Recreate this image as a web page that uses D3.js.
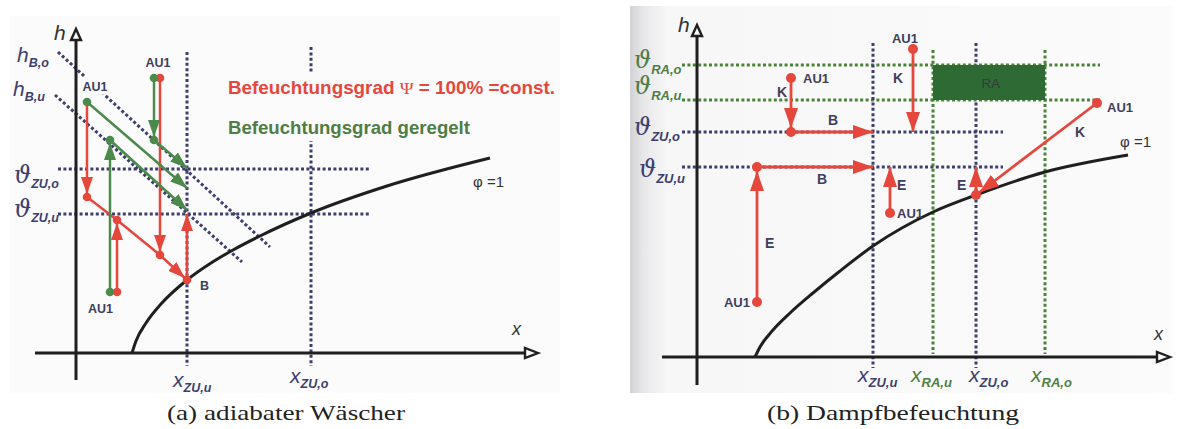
<!DOCTYPE html>
<html>
<head>
<meta charset="utf-8">
<script src="https://cdn.jsdelivr.net/npm/d3@7"></script>
<style>
  html, body { margin: 0; background: #ffffff; }
  svg { display: block; }
</style>
</head>
<body>
<svg id="fig" width="1184" height="429"></svg>
<script>
// ===================== data (diagram units: x = water content, h = enthalpy) =====================

// (a) adiabatic washer
const satCurveA = [[5.6, 0], [6.0, 1.2], [7.0, 3.0], [8.5, 4.9], [11.1, 7.3], [13.5, 9.0], [15.7, 10.3],
                   [18.4, 11.7], [23.5, 14.0], [31.1, 16.7], [41.4, 19.5]];
const tempLevelsA = [{ sub: "ZU,o", h: 18.4 }, { sub: "ZU,u", h: 13.9 }];
const moistLevelsA = [{ sub: "ZU,u", x: 11.1 }, { sub: "ZU,o", x: 23.5 }];
const isenthalpsA = [
  { sub: "B,o", from: [-1.8, 30.1], to: [19.4, 10.6] },
  { sub: "B,u", from: [-2.1, 25.8], to: [16.6, 9.1] }
];
// psi = 100 % = const. (red) : state changes
const redPathsA = [
  { pts: [[1.1, 25.1], [1.1, 15.6]], end: "dot" },
  { pts: [[4.1, 6.1], [4.1, 13.3]], end: "dot" },
  { pts: [[8.4, 27.5], [8.4, 9.8]], end: "dot" },
  { pts: [[1.1, 15.6], [4.1, 13.3], [8.4, 9.8], [11.1, 7.3]], end: "dot" },
  { pts: [[11.1, 7.3], [11.1, 13.9]], end: "tip" }
];
const redDotsA = [[8.4, 27.5], [4.1, 6.1], [1.1, 15.6], [4.1, 13.3], [8.4, 9.8], [11.1, 7.3]];
// controlled humidification (green)
const greenPathsA = [
  { pts: [[1.1, 25.1], [11.1, 16.5]], end: "tip" },
  { pts: [[3.4, 6.1], [3.4, 21.3]], end: "dot" },
  { pts: [[3.4, 21.3], [11.1, 14.3]], end: "tip" },
  { pts: [[7.8, 27.5], [7.8, 21.3]], end: "dot" },
  { pts: [[7.8, 21.3], [11.1, 18.5]], end: "tip" }
];
const greenDotsA = [[1.1, 25.1], [7.8, 27.5], [3.4, 6.1], [3.4, 21.3], [7.8, 21.3]];
const outdoorStatesA = [[1.1, 25.1], [8.1, 27.5], [3.75, 6.1]];
const pointB_A = [11.1, 7.3];
const legendA = ["Befeuchtungsgrad  ", "Ψ", " = 100% =const.", "Befeuchtungsgrad geregelt"];

// (b) steam humidification
const satCurveB = [[5.8, 0], [6.3, 1.0], [7.6, 2.7], [9.3, 4.4], [11.6, 6.4], [14.3, 8.6], [17.6, 11.1],
                   [23.6, 14.5], [27.9, 16.2], [34.8, 18.5], [43.1, 20.2]];
const tempLevelsB = [
  { sub: "RA,o", h: 29.2, kind: "RA" },
  { sub: "RA,u", h: 25.7, kind: "RA" },
  { sub: "ZU,o", h: 22.5, kind: "ZU" },
  { sub: "ZU,u", h: 19.0, kind: "ZU" }
];
const moistLevelsB = [
  { sub: "ZU,u", x: 17.6, kind: "ZU" },
  { sub: "RA,u", x: 23.6, kind: "RA" },
  { sub: "ZU,o", x: 27.9, kind: "ZU" },
  { sub: "RA,o", x: 34.8, kind: "RA" }
];
const roomBox = { x0: 23.6, x1: 34.8, h0: 25.7, h1: 29.2, label: "RA" };
const redPathsB = [
  { pts: [[9.4, 27.9], [9.4, 22.5]], end: "dot", tag: "K" },
  { pts: [[9.4, 22.5], [17.6, 22.5]], end: "tip", tag: "B" },
  { pts: [[6.0, 5.5], [6.0, 19.0]], end: "dot", tag: "E" },
  { pts: [[6.0, 19.0], [17.6, 19.0]], end: "tip", tag: "B" },
  { pts: [[21.6, 30.8], [21.6, 22.5]], end: "tip", tag: "K" },
  { pts: [[19.3, 14.4], [19.3, 19.0]], end: "tip", tag: "E" },
  { pts: [[40.0, 25.4], [27.9, 16.2]], end: "dot", tag: "K" },
  { pts: [[27.9, 16.2], [27.9, 19.0]], end: "tip", tag: "E" }
];
const redDotsB = [[9.4, 27.9], [9.4, 22.5], [6.0, 5.5], [6.0, 19.0], [21.6, 30.8], [19.3, 14.4], [40.0, 25.4], [27.9, 16.2]];

const captions = ["(a) adiabater Wäscher", "(b) Dampfbefeuchtung"];

// ===================== styling =====================
const RED = "#e5473d", GREEN = "#4c8a4c", GREEN_TXT = "#4f7d45", NAVY = "#3d3f6e",
      DOTGREEN = "#4a8438", INK = "#1f1f1f", LBL = "#3e3e5e", BOX = "#2e6a34";
const SANS = "'Liberation Sans', Arial, sans-serif";
const SERIF = "'DejaVu Serif', serif";

const svg = d3.select("#fig");
const defs = svg.append("defs");

// filled arrowheads drawn in user space; "back" pulls the tip off a state dot
function marker(id, color, len, wid, back) {
  defs.append("marker").attr("id", id)
    .attr("markerUnits", "userSpaceOnUse")
    .attr("viewBox", `0 0 ${len} ${wid}`)
    .attr("markerWidth", len).attr("markerHeight", wid)
    .attr("refX", len + back).attr("refY", wid / 2)
    .attr("orient", "auto")
    .append("path").attr("d", `M0,0L${len},${wid / 2}L0,${wid}Z`).attr("fill", color);
}
marker("rA-tip", RED, 17, 12, 0);
marker("rA-dot", RED, 17, 12, 3);
marker("gA-tip", GREEN, 17, 12, 0);
marker("gA-dot", GREEN, 17, 12, 3);
marker("rB-tip", RED, 20, 14, 0);
marker("rB-dot", RED, 20, 14, 4);

const bgGrad = defs.append("linearGradient").attr("id", "bgB").attr("x1", 0).attr("x2", 1).attr("y1", 0).attr("y2", 0);
bgGrad.append("stop").attr("offset", 0).attr("stop-color", "#d2d2d4");
bgGrad.append("stop").attr("offset", 0.025).attr("stop-color", "#e8e8ea");
bgGrad.append("stop").attr("offset", 0.07).attr("stop-color", "#f7f7f8");
bgGrad.append("stop").attr("offset", 1).attr("stop-color", "#fbfbfb");

const line = (sx, sy) => d3.line().x(d => sx(d[0])).y(d => sy(d[1]));

function dottedH(g, sx, sy, h, x0, x1, color) {
  g.append("line").attr("x1", sx(x0)).attr("x2", sx(x1)).attr("y1", sy(h)).attr("y2", sy(h))
    .attr("stroke", color).attr("stroke-width", 3).attr("stroke-dasharray", "3,2.4");
}
function dottedV(g, sx, sy, x, h0, h1, color) {
  g.append("line").attr("x1", sx(x)).attr("x2", sx(x)).attr("y1", sy(h0)).attr("y2", sy(h1))
    .attr("stroke", color).attr("stroke-width", 3).attr("stroke-dasharray", "3,2.4");
}

// symbol with subscript, e.g. ϑ_ZU,o
function symbol(g, x, y, main, sub, o) {
  const t = g.append("text").attr("x", x).attr("y", y).attr("fill", o.color);
  t.append("tspan").text(main)
    .attr("font-family", o.mainFont).attr("font-style", "italic")
    .attr("font-size", o.mainSize);
  t.append("tspan").text(sub)
    .attr("font-family", SANS).attr("font-style", "italic").attr("font-weight", "bold")
    .attr("font-size", o.subSize).attr("dy", o.subDy);
  return t;
}
function tag(g, x, y, txt, o = {}) {
  return g.append("text").attr("x", x).attr("y", y).text(txt)
    .attr("font-family", SANS).attr("font-weight", "bold")
    .attr("font-size", o.size || 12.5).attr("fill", o.color || LBL)
    .attr("text-anchor", o.anchor || "start");
}
function axes(g, sx, sy, xMin, xMax, hMin, hMax) {
  const X0 = sx(0), Y0 = sy(0);
  g.append("line").attr("x1", X0).attr("x2", X0).attr("y1", sy(hMin)).attr("y2", sy(hMax) + 9)
    .attr("stroke", INK).attr("stroke-width", 3);
  g.append("path")
    .attr("d", `M${X0},${sy(hMax)}L${X0 + 5},${sy(hMax) + 11}L${X0 - 5},${sy(hMax) + 11}Z`)
    .attr("fill", "#fbfbfb").attr("stroke", INK).attr("stroke-width", 2.4);
  g.append("line").attr("x1", sx(xMin)).attr("x2", sx(xMax) - 11).attr("y1", Y0).attr("y2", Y0)
    .attr("stroke", INK).attr("stroke-width", 3);
  g.append("path")
    .attr("d", `M${sx(xMax)},${Y0}L${sx(xMax) - 13},${Y0 - 5}L${sx(xMax) - 13},${Y0 + 5}Z`)
    .attr("fill", "#fbfbfb").attr("stroke", INK).attr("stroke-width", 2.4);
}

// ===================== panel (a) =====================
{
  const g = svg.append("g");
  const x = d3.scaleLinear().domain([0, 10]).range([76, 176]);
  const y = d3.scaleLinear().domain([0, 10]).range([353, 253]);

  g.append("rect").attr("x", 10).attr("y", 16).attr("width", 550).attr("height", 377).attr("fill", "#fbfbfb");

  // constant-temperature and constant-moisture guides
  tempLevelsA.forEach(d => dottedH(g, x, y, d.h, -1.8, 29.4, NAVY));
  dottedV(g, x, y, moistLevelsA[0].x, 30.1, -1.3, NAVY);
  dottedV(g, x, y, moistLevelsA[1].x, 30.6, -1.3, NAVY);
  // isenthalps h_B,o / h_B,u
  isenthalpsA.forEach(d => {
    g.append("line").attr("x1", x(d.from[0])).attr("y1", y(d.from[1]))
      .attr("x2", x(d.to[0])).attr("y2", y(d.to[1]))
      .attr("stroke", NAVY).attr("stroke-width", 3).attr("stroke-dasharray", "3,2.4");
  });

  // legend box
  g.append("rect").attr("x", 222).attr("y", 72).attr("width", 336).attr("height", 69).attr("fill", "#fbfbfb");
  const l1 = g.append("text").attr("x", 228).attr("y", 94)
    .attr("font-family", SANS).attr("font-weight", "bold").attr("font-size", 17.5).attr("fill", RED)
    .attr("textLength", 327).attr("lengthAdjust", "spacingAndGlyphs");
  l1.append("tspan").text(legendA[0]);
  l1.append("tspan").text(legendA[1]).attr("font-family", "'Liberation Serif', serif").attr("font-weight", "normal");
  l1.append("tspan").text(legendA[2]);
  g.append("text").attr("x", 228).attr("y", 134).text(legendA[3])
    .attr("font-family", SANS).attr("font-weight", "bold").attr("font-size", 17.5).attr("fill", GREEN_TXT)
    .attr("textLength", 242).attr("lengthAdjust", "spacingAndGlyphs");

  axes(g, x, y, -4.1, 46.2, -2.7, 32.4);

  // saturation line phi = 1
  g.append("path").datum(satCurveA).attr("d", line(x, y).curve(d3.curveMonotoneX))
    .attr("fill", "none").attr("stroke", INK).attr("stroke-width", 3);

  // process paths
  redPathsA.forEach(p => {
    g.append("path").datum(p.pts).attr("d", line(x, y))
      .attr("fill", "none").attr("stroke", RED).attr("stroke-width", 2.5)
      .attr("marker-end", `url(#rA-${p.end})`);
  });
  greenPathsA.forEach(p => {
    g.append("path").datum(p.pts).attr("d", line(x, y))
      .attr("fill", "none").attr("stroke", GREEN).attr("stroke-width", 2.5)
      .attr("marker-end", `url(#gA-${p.end})`);
  });
  redDotsA.forEach(d => g.append("circle").attr("cx", x(d[0])).attr("cy", y(d[1])).attr("r", 4.3).attr("fill", RED));
  greenDotsA.forEach(d => g.append("circle").attr("cx", x(d[0])).attr("cy", y(d[1])).attr("r", 4.3).attr("fill", GREEN));

  // labels
  const halo = t => t.attr("stroke", "#fbfbfb").attr("stroke-width", 7).attr("paint-order", "stroke");
  halo(tag(g, x(outdoorStatesA[0][0]) + 8, y(outdoorStatesA[0][1]) - 11, "AU1", { anchor: "middle" }));
  tag(g, x(outdoorStatesA[1][0]) + 1, y(outdoorStatesA[1][1]) - 11, "AU1", { anchor: "middle" });
  tag(g, x(outdoorStatesA[2][0]) - 13, y(outdoorStatesA[2][1]) + 21, "AU1", { anchor: "middle" });
  tag(g, x(pointB_A[0]) + 13, y(pointB_A[1]) + 10, "B");
  g.append("text").attr("x", 473).attr("y", 187).text("φ =1")
    .attr("font-family", SANS).attr("font-size", 15).attr("fill", "#333");

  const ax = { color: NAVY, mainFont: SANS, mainSize: 21, subSize: 12.5, subDy: 5 };
  const th = { color: NAVY, mainFont: SERIF, mainSize: 24, subSize: 12.5, subDy: 5 };
  g.append("text").attr("x", 54).attr("y", 40).text("h")
    .attr("font-family", SANS).attr("font-style", "italic").attr("font-size", 21).attr("fill", "#333");
  g.append("text").attr("x", 512).attr("y", 335).text("x")
    .attr("font-family", SANS).attr("font-style", "italic").attr("font-size", 18).attr("fill", "#333");
  symbol(g, x(isenthalpsA[0].from[0]) - 41, y(isenthalpsA[0].from[1]) + 10, "h", isenthalpsA[0].sub, ax);
  symbol(g, x(isenthalpsA[1].from[0]) - 42, y(isenthalpsA[1].from[1]) + 1, "h", isenthalpsA[1].sub, ax);
  symbol(g, 14, y(tempLevelsA[0].h) + 14, "ϑ", tempLevelsA[0].sub, th);
  symbol(g, 14, y(tempLevelsA[1].h) + 3, "ϑ", tempLevelsA[1].sub, th);
  symbol(g, x(moistLevelsA[0].x) - 14, 387, "x", moistLevelsA[0].sub, ax);
  symbol(g, x(moistLevelsA[1].x) - 21, 383, "x", moistLevelsA[1].sub, ax);
}

// ===================== panel (b) =====================
{
  const g = svg.append("g");
  const x = d3.scaleLinear().domain([0, 10]).range([697, 797]);
  const y = d3.scaleLinear().domain([0, 10]).range([357, 257]);
  const col = k => (k === "RA" ? DOTGREEN : NAVY);
  const txtCol = k => (k === "RA" ? GREEN_TXT : NAVY);

  g.append("rect").attr("x", 630).attr("y", 6).attr("width", 542).attr("height", 387).attr("fill", "url(#bgB)");

  tempLevelsB.forEach(d => dottedH(g, x, y, d.h, -1.5, d.kind === "RA" ? 40.3 : 30.6, col(d.kind)));
  moistLevelsB.forEach(d => dottedV(g, x, y, d.x,
    d.kind === "RA" ? 30.7 : 31.4, d.kind === "RA" ? 0.3 : -1.1, col(d.kind)));

  // room air comfort box
  g.append("rect").attr("x", x(roomBox.x0)).attr("y", y(roomBox.h1))
    .attr("width", x(roomBox.x1) - x(roomBox.x0)).attr("height", y(roomBox.h0) - y(roomBox.h1))
    .attr("fill", BOX);
  g.append("text").attr("x", (x(roomBox.x0) + x(roomBox.x1)) / 2 + 2).attr("y", y((roomBox.h0 + roomBox.h1) / 2) + 5)
    .text(roomBox.label).attr("text-anchor", "middle")
    .attr("font-family", SANS).attr("font-size", 13.5).attr("fill", "#3a3a3a");

  axes(g, x, y, -3.5, 47.3, -2.8, 33.2);

  g.append("path").datum(satCurveB).attr("d", line(x, y).curve(d3.curveMonotoneX))
    .attr("fill", "none").attr("stroke", INK).attr("stroke-width", 3);

  redPathsB.forEach(p => {
    g.append("path").datum(p.pts).attr("d", line(x, y))
      .attr("fill", "none").attr("stroke", RED).attr("stroke-width", 2.8)
      .attr("marker-end", `url(#rB-${p.end})`);
  });
  redDotsB.forEach(d => g.append("circle").attr("cx", x(d[0])).attr("cy", y(d[1])).attr("r", 5).attr("fill", RED));

  // state and process labels
  const P = redDotsB;
  tag(g, x(P[0][0]) + 12, y(P[0][1]) + 5, "AU1", { size: 13 });
  tag(g, x(P[2][0]) - 7, y(P[2][1]) + 5, "AU1", { size: 13, anchor: "end" });
  tag(g, x(P[4][0]) - 8, y(P[4][1]) - 6, "AU1", { size: 13, anchor: "middle" });
  tag(g, x(P[5][0]) + 7, y(P[5][1]) + 5, "AU1", { size: 13 });
  tag(g, x(P[6][0]) + 10, y(P[6][1]) + 9, "AU1", { size: 13 });
  tag(g, 777, 97, redPathsB[0].tag, { size: 14 });
  tag(g, 828, 125, redPathsB[1].tag, { size: 14 });
  tag(g, 765, 248, redPathsB[2].tag, { size: 14 });
  tag(g, 817, 184, redPathsB[3].tag, { size: 14 });
  tag(g, 893, 83, redPathsB[4].tag, { size: 14 });
  tag(g, 897, 190, redPathsB[5].tag, { size: 14 });
  tag(g, 1075, 137, redPathsB[6].tag, { size: 14 });
  tag(g, 957, 190, redPathsB[7].tag, { size: 14 });
  g.append("text").attr("x", 1120).attr("y", 147).text("φ =1")
    .attr("font-family", SANS).attr("font-size", 15).attr("fill", "#333");

  g.append("text").attr("x", 678).attr("y", 32).text("h")
    .attr("font-family", SANS).attr("font-style", "italic").attr("font-size", 21).attr("fill", "#333");
  g.append("text").attr("x", 1154).attr("y", 340).text("x")
    .attr("font-family", SANS).attr("font-style", "italic").attr("font-size", 18).attr("fill", "#333");

  const thOff = [3, -6, 3, 10], thX = [634, 634, 634, 639];
  tempLevelsB.forEach((d, i) => symbol(g, thX[i], y(d.h) + thOff[i], "ϑ", d.sub,
    { color: txtCol(d.kind), mainFont: SERIF, mainSize: 24, subSize: 13, subDy: 6 }));
  const xOff = [-15, -22, -7, -14];
  moistLevelsB.forEach((d, i) => symbol(g, x(d.x) + xOff[i], 382, "x", d.sub,
    { color: txtCol(d.kind), mainFont: SANS, mainSize: 21, subSize: 13, subDy: 5 }));
}

// ===================== captions =====================
svg.append("text").attr("x", 286).attr("y", 420).text(captions[0])
  .attr("text-anchor", "middle").attr("font-family", "'Liberation Serif', serif")
  .attr("font-size", 21).attr("fill", "#222")
  .attr("textLength", 238).attr("lengthAdjust", "spacingAndGlyphs");
svg.append("text").attr("x", 893).attr("y", 420).text(captions[1])
  .attr("text-anchor", "middle").attr("font-family", "'Liberation Serif', serif")
  .attr("font-size", 21).attr("fill", "#222")
  .attr("textLength", 252).attr("lengthAdjust", "spacingAndGlyphs");
</script>
</body>
</html>
